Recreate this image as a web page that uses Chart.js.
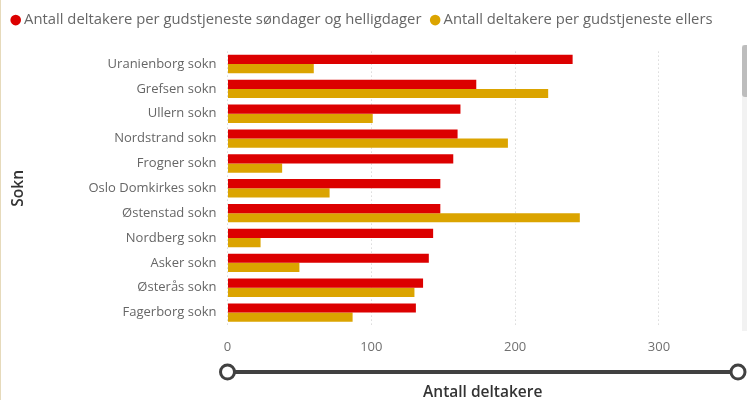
<!DOCTYPE html>
<html>
<head>
<meta charset="utf-8">
<script src="https://cdn.jsdelivr.net/npm/chart.js@4"></script>
<style>
  body { margin: 0; background: #fff; }
  #wrap { position: relative; width: 747px; height: 400px; }
  #edge { position: absolute; left: 0; top: 0; width: 1px; height: 400px; background: #e6dabb; }
  #track { position: absolute; left: 742px; top: 45px; width: 5px; height: 286px; background: #f2f2f2; }
  #thumb { position: absolute; left: 742px; top: 45px; width: 5px; height: 52px; background: #bdbdbd; border-radius: 3px 0 0 3px; }
</style>
</head>
<body>
<div id="wrap">
  <canvas id="chart" width="747" height="400"></canvas>
  <div id="edge"></div>
  <div id="track"></div>
  <div id="thumb"></div>
</div>
<script>
var parishes = ['Uranienborg sokn', 'Grefsen sokn', 'Ullern sokn', 'Nordstrand sokn', 'Frogner sokn',
    'Oslo Domkirkes sokn', 'Østenstad sokn', 'Nordberg sokn', 'Asker sokn', 'Østerås sokn', 'Fagerborg sokn'];
var sundays = [240, 173, 162, 160, 157, 148, 148, 143, 140, 136, 131];
var otherDays = [60, 223, 101, 195, 38, 71, 245, 23, 50, 130, 87];
var xTicks = [0, 100, 200, 300];

var fontName = "'Open Sans', sans-serif";

// the range slider under the x axis (Power BI style)
const sliderPlugin = {
    id: 'slider',
    afterDraw(chart) {
        const ctx = chart.ctx;
        const x = chart.scales.x;
        const y = chart.chartArea.bottom + 47;
        ctx.save();
        ctx.strokeStyle = '#414141';
        ctx.lineWidth = 4;
        ctx.beginPath();
        ctx.moveTo(x.left, y);
        ctx.lineTo(x.right, y);
        ctx.stroke();
        [x.left, x.right].forEach(cx => {
            ctx.beginPath();
            ctx.arc(cx, y, 7, 0, Math.PI * 2);
            ctx.fillStyle = '#fff';
            ctx.fill();
            ctx.lineWidth = 3;
            ctx.stroke();
        });
        ctx.restore();
    }
};

// leave more room under the legend
const legendGap = {
    id: 'legendGap',
    beforeInit(chart) {
        const fit = chart.legend.fit;
        chart.legend.fit = function () {
            fit.call(this);
            this.height = 51.6;
        };
    }
};

const ctx = document.getElementById('chart').getContext('2d');

new Chart(ctx, {
    type: 'bar',
    data: {
        labels: parishes,
        datasets: [{
            label: 'Antall deltakere per gudstjeneste søndager og helligdager',
            data: sundays,
            backgroundColor: '#dc0000'
        }, {
            label: 'Antall deltakere per gudstjeneste ellers',
            data: otherDays,
            backgroundColor: '#dba400'
        }]
    },
    options: {
        indexAxis: 'y',
        responsive: false,
        animation: false,
        categoryPercentage: 0.74,
        barPercentage: 1,
        layout: { padding: { top: 0, left: 2, right: 9, bottom: 0 } },
        plugins: {
            legend: {
                align: 'start',
                labels: {
                    usePointStyle: true,
                    pointStyle: 'circle',
                    boxWidth: 2,
                    boxHeight: 7.5,
                    padding: 12.7,
                    color: '#666',
                    font: { family: fontName, size: 14.8 }
                }
            },
            tooltip: { enabled: false }
        },
        scales: {
            x: {
                min: 0,
                max: 355,
                afterBuildTicks: scale => {
                    scale.ticks = xTicks.map(v => ({ value: v }));
                },
                afterFit: scale => { scale.height = 75; },
                grid: {
                    color: '#c8c8c8',
                    drawTicks: false
                },
                border: { display: false, dash: [1, 3] },
                ticks: {
                    padding: 14,
                    color: '#707070',
                    font: { family: fontName, size: 13 }
                },
                title: {
                    display: true,
                    text: 'Antall deltakere',
                    color: '#333',
                    padding: { top: 0, bottom: -2 },
                    font: { family: fontName, size: 15.5, weight: '600' }
                }
            },
            y: {
                afterFit: scale => { scale.width = 225.5; },
                border: { display: false },
                grid: { display: false, drawTicks: false },
                ticks: {
                    padding: 11,
                    color: '#666',
                    font: { family: fontName, size: 13 }
                },
                title: {
                    display: true,
                    text: 'Sokn',
                    color: '#333',
                    padding: { top: 7, bottom: 0 },
                    font: { family: fontName, size: 15.5, weight: '600' }
                }
            }
        }
    },
    plugins: [sliderPlugin, legendGap]
});
</script>
</body>
</html>
